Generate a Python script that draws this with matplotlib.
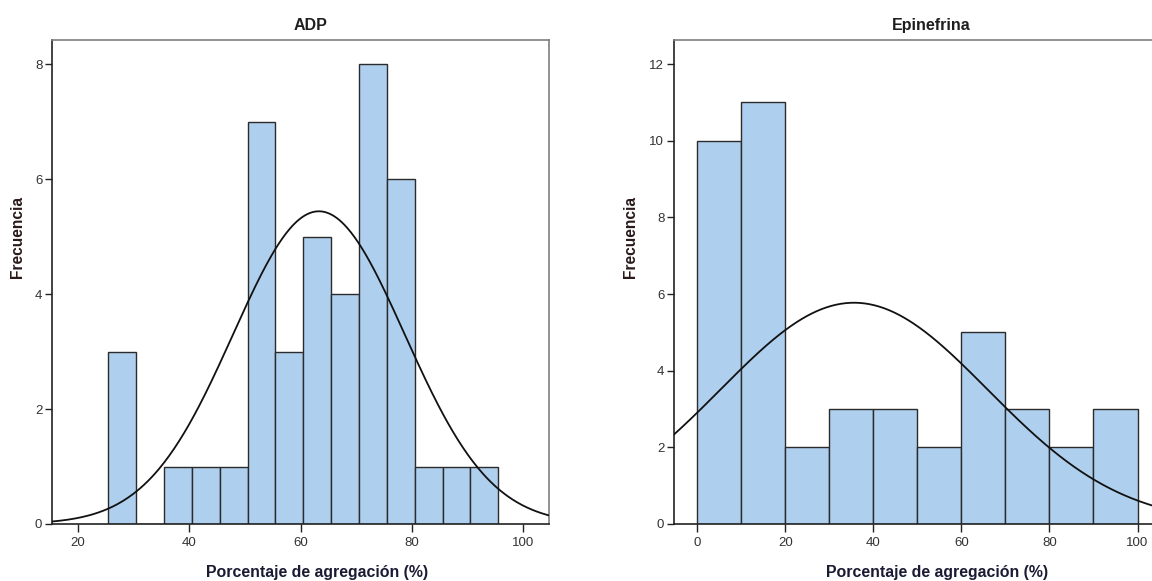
import numpy as np
import matplotlib
matplotlib.use("Agg")
import matplotlib.pyplot as plt

plt.rcParams['font.family'] = ['Liberation Sans', 'DejaVu Sans']

# ADP histogram (bin width 5)
adp_edges = [25.5, 30.5, 35.5, 40.5, 45.5, 50.5, 55.5, 60.5, 65.5, 70.5, 75.5, 80.5, 85.5, 90.5, 95.5]
adp_counts = [3, 0, 1, 1, 1, 7, 3, 5, 4, 8, 6, 1, 1, 1]
adp_mean, adp_sd = 63.3, 15.4

# Epinefrina histogram (bin width 10)
epi_edges = [0, 10, 20, 30, 40, 50, 60, 70, 80, 90, 100]
epi_counts = [10, 11, 2, 3, 3, 2, 5, 3, 2, 3]
epi_mean, epi_sd = 35.6, 30.4

bar_color = "#aecfee"
text_color = "#1f1f1f"


def draw_panel(ax, title, edges, counts, mean, sd, xlim, ylim, xticks, yticks,
               title_x, xlabel_x):
    edges = np.array(edges, dtype=float)
    counts = np.array(counts)
    width = edges[1] - edges[0]
    ax.bar(edges[:-1], counts, width=width, align="edge", color=bar_color,
           edgecolor="#2b2b2b", linewidth=1.0, zorder=2)
    # normal curve scaled to counts
    n = counts.sum()
    xs = np.linspace(xlim[0], xlim[1], 400)
    ys = n * width / (sd * np.sqrt(2 * np.pi)) * np.exp(-0.5 * ((xs - mean) / sd) ** 2)
    ax.plot(xs, ys, color="#111111", linewidth=1.3, zorder=3)

    ax.set_xlim(*xlim)
    ax.set_ylim(*ylim)
    ax.set_xticks(xticks)
    ax.set_yticks(yticks)
    ax.tick_params(axis="both", direction="out", length=5, width=1.0,
                   labelsize=9.5, labelcolor="#333333", color="#222222", pad=2)
    ax.tick_params(axis="x", length=6, pad=3)
    for side in ["left", "bottom"]:
        ax.spines[side].set_color("#222222")
        ax.spines[side].set_linewidth(1.2)
    for side in ["top", "right"]:
        ax.spines[side].set_color("#7f7f7f")
        ax.spines[side].set_linewidth(1.2)
    ax.set_title(title, fontsize=11.5, fontweight="bold", color=text_color, pad=7, x=title_x)
    ax.set_xlabel("Porcentaje de agregación (%)", fontsize=11.4, fontweight="bold",
                  color="#1a1a33")
    ax.xaxis.set_label_coords(xlabel_x, -0.085)
    ax.set_ylabel("Frecuencia", fontsize=11.2, fontweight="bold", color="#2a1a1a")


fig = plt.figure(figsize=(11.52, 5.81), dpi=100)
ax1 = fig.add_axes([52 / 1152, 57 / 581, 497 / 1152, 484 / 581])
ax2 = fig.add_axes([674 / 1152, 57 / 581, 482 / 1152, 484 / 581])

draw_panel(ax1, "ADP", adp_edges, adp_counts, adp_mean, adp_sd,
           (15.4, 104.6), (0, 8.42), [20, 40, 60, 80, 100], [0, 2, 4, 6, 8],
           0.520, 0.534)
draw_panel(ax2, "Epinefrina", epi_edges, epi_counts, epi_mean, epi_sd,
           (-5.3, 104.2), (0, 12.63), [0, 20, 40, 60, 80, 100], [0, 2, 4, 6, 8, 10, 12],
           0.534, 0.546)
ax1.yaxis.set_label_coords(-0.055, 0.592)
ax2.yaxis.set_label_coords(-0.074, 0.592)

fig.savefig("out.png", dpi=100)
